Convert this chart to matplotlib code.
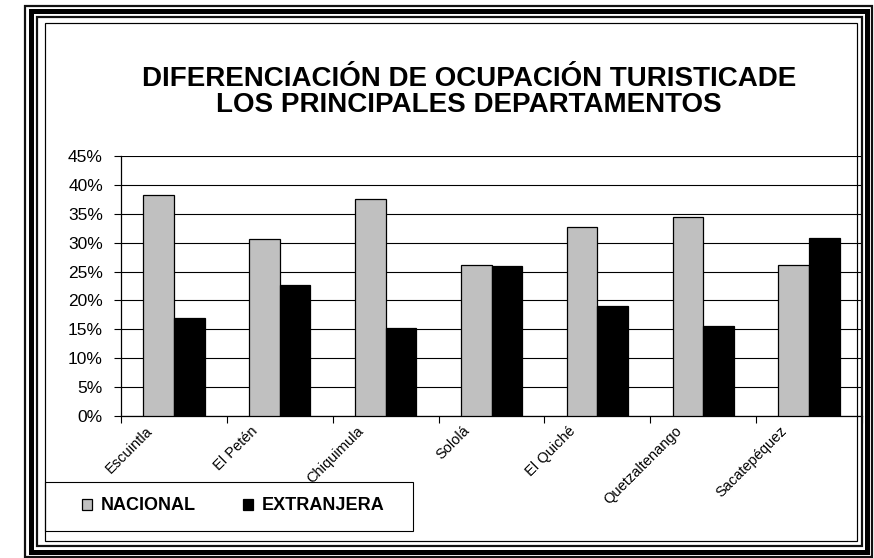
import numpy as np
import matplotlib.pyplot as plt
from matplotlib.patches import Rectangle
from matplotlib.transforms import ScaledTranslation

# --------------------------
# Data
# --------------------------
departamentos = ["Escuintla", "El Petén", "Chiquimula", "Sololá",
                 "El Quiché", "Quetzaltenango", "Sacatepéquez"]
nacional = [38.3, 30.6, 37.5, 26.1, 32.7, 34.4, 26.2]
extranjera = [17.0, 22.7, 15.2, 26.0, 19.1, 15.6, 30.8]
yticks = [0, 5, 10, 15, 20, 25, 30, 35, 40, 45]

W, H = 874, 558
plt.rcParams['font.family'] = ['Liberation Sans', 'DejaVu Sans']

fig = plt.figure(figsize=(W / 100, H / 100), dpi=100)


def px_rect(x0, y0, x1, y1, lw, color='black'):
    # pixel box (top-left origin) -> figure fraction rectangle
    r = Rectangle((x0 / W, 1 - y1 / H), (x1 - x0) / W, (y1 - y0) / H,
                  transform=fig.transFigure, fill=False, edgecolor=color,
                  linewidth=lw * 0.72, zorder=10)
    fig.add_artist(r)


# axes placed in pixels
ax_l, ax_r, ax_t, ax_b = 121, 862, 156, 416
ax = fig.add_axes([ax_l / W, 1 - ax_b / H, (ax_r - ax_l) / W, (ax_b - ax_t) / H])

x = np.arange(len(departamentos))
w = 0.29
b1 = ax.bar(x - w / 2, nacional, w, color='#C0C0C0', edgecolor='black',
            linewidth=0.9, label='NACIONAL', zorder=3)
b2 = ax.bar(x + w / 2, extranjera, w, color='black', edgecolor='black',
            linewidth=0.9, label='EXTRANJERA', zorder=3)

ax.set_xlim(-0.5, len(departamentos) - 0.5)
ax.set_ylim(0, 45)
ax.set_yticks(yticks)
ax.set_yticklabels([f"{v}%" for v in yticks], fontsize=12.5)
ax.yaxis.grid(True, color='black', linewidth=0.8, zorder=0)
ax.set_axisbelow(True)

# category boundaries as major ticks, names on minor ticks
ax.set_xticks(np.arange(-0.5, len(departamentos), 1.0))
ax.set_xticklabels([])
ax.set_xticks(x, minor=True)
ax.set_xticklabels(departamentos, minor=True, rotation=45, ha='right',
                   va='center', rotation_mode='anchor', fontsize=10.5)
ax.tick_params(axis='x', which='major', length=5, width=0.8, direction='out')
ax.tick_params(axis='x', which='minor', length=0, pad=9)
ax.tick_params(axis='y', length=5, width=0.8, direction='out', pad=8)
for lab in ax.get_xticklabels(minor=True):
    lab.set_transform(lab.get_transform() + ScaledTranslation(-0.24, 0, fig.dpi_scale_trans))

for s in ['top', 'right']:
    ax.spines[s].set_visible(False)
for s in ['left', 'bottom']:
    ax.spines[s].set_linewidth(0.9)

# title
fig.text(469 / W, 1 - 92 / H,
         "DIFERENCIACIÓN DE OCUPACIÓN TURISTICADE\nLOS PRINCIPALES DEPARTAMENTOS",
         ha='center', va='center', fontsize=20, fontweight='bold', linespacing=0.98)

# legend: frame drawn as a box, entries centred inside it
px_rect(45, 482, 413, 531, 1.1)
leg = fig.legend(handles=[b1, b2], labels=['NACIONAL', 'EXTRANJERA'],
                 loc='center', ncol=2,
                 bbox_to_anchor=(233 / W, 1 - 506 / H),
                 prop={'weight': 'bold', 'size': 13}, frameon=False,
                 handlelength=0.55, handleheight=0.55,
                 handletextpad=0.5, columnspacing=2.6)

# nested borders
px_rect(45, 23, 857, 541, 1.2)
px_rect(37, 17, 862, 546, 2.2, '#111111')
px_rect(31, 11, 867, 552, 5.0)
px_rect(25, 6, 872, 557, 2.2, '#111111')

fig.savefig("out.png", dpi=100)
